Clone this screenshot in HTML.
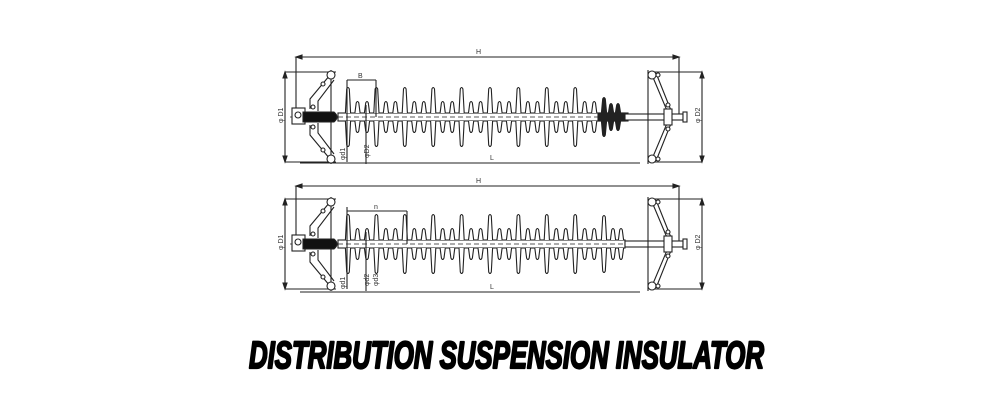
<!DOCTYPE html>
<html><head><meta charset="utf-8"><style>
html,body{margin:0;padding:0;background:#fff;width:1000px;height:400px;overflow:hidden}
svg{display:block}
</style></head><body>
<svg id="s" width="1000" height="400" viewBox="0 0 1000 400" xmlns="http://www.w3.org/2000/svg" font-family="Liberation Sans, sans-serif">
<g id="g" stroke="#222" stroke-width="1.1" fill="none"></g>
<text x="249" y="368" font-size="38" font-weight="bold" font-style="italic" textLength="515" lengthAdjust="spacingAndGlyphs" fill="#000" stroke="#000" stroke-width="2.2" stroke-linejoin="round">DISTRIBUTION SUSPENSION INSULATOR</text>
</svg>
<script>
var g=document.getElementById('g'),o='';
function L(a,b,c,d,e){o+='<line x1="'+a+'" y1="'+b+'" x2="'+c+'" y2="'+d+'"'+(e||'')+'/>';}
function T(x,y,t,r){o+='<text x="'+x+'" y="'+y+'" font-size="7" fill="#333" stroke="none"'+(r?' transform="rotate(-90 '+x+' '+y+')"':'')+'>'+t+'</text>';}
function C(x,y,r,f){o+='<circle cx="'+x+'" cy="'+y+'" r="'+r+'" fill="'+(f||'#fff')+'"/>';}
function shed(x,cy,h,dark){
 var w=2.6;
 o+='<path d="M'+(x-w)+' '+(cy-4)+' L'+(x-1.3)+' '+(cy-h+2)+' Q'+x+' '+(cy-h-1)+' '+(x+1.3)+' '+(cy-h+2)+' L'+(x+w)+' '+(cy-4)+' M'+(x-w)+' '+(cy+4)+' L'+(x-1.3)+' '+(cy+h-2)+' Q'+x+' '+(cy+h+1)+' '+(x+1.3)+' '+(cy+h-2)+' L'+(x+w)+' '+(cy+4)+'" fill="'+(dark?'#222':'#fff')+'"/>';
}
function draw(cy,yH,yL,s0,bottom){
 var top=cy-45,bot=cy+45;
 L(296,yH,679,yH);L(296,yH,296,cy);L(679,yH,679,cy);
 o+='<path d="M296 '+yH+' l6 -2 v4z M679 '+yH+' l-6 -2 v4z" fill="#222"/>';
 T(476,yH-3,'H');
 L(285,top,285,bot);L(285,top,336,top);L(285,bot,336,bot);
 o+='<path d="M285 '+top+' l-2 6 h4z M285 '+bot+' l-2 -6 h4z" fill="#222"/>';
 T(283,cy+6,'\u03c6 D1',1);
 L(702,top,702,bot);L(650,top,702,top);L(650,bot,702,bot);
 o+='<path d="M702 '+top+' l-2 6 h4z M702 '+bot+' l-2 -6 h4z" fill="#222"/>';
 T(700,cy+6,'\u03c6 D2',1);
 L(300,yL,640,yL);T(490,yL-3,'L');
 o+='<rect x="338" y="'+(cy-4)+'" width="'+(625-338)+'" height="8" fill="#fff"/>';
 for(var k=0;k<10;k++){var x=s0+28.4*k;if(x>600)break;shed(x,cy,30);if(x+10<600)shed(x+9.5,cy,16);if(x+19<600)shed(x+19,cy,16);}
 if(!bottom){shed(604,cy,20,1);shed(611,cy,14,1);shed(618,cy,14,1);o+='<rect x="598" y="'+(cy-4)+'" width="30" height="8" fill="#222"/>';}
 else{shed(604,cy,29);shed(613,cy,16);shed(621,cy,16);}
 L(290,cy,690,cy,' stroke-dasharray="5 3" stroke-width="0.7"');
 L(331,top-2,331,bot+2);
 o+='<path d="M330 '+(top+3)+' L310 '+(cy-18)+' L310 '+(cy-8)+' M334 '+(top+8)+' L318 '+(cy-16)+' L318 '+(cy-6)+' M330 '+(bot-3)+' L310 '+(cy+18)+' L310 '+(cy+8)+' M334 '+(bot-8)+' L318 '+(cy+16)+' L318 '+(cy+6)+'" fill="none"/>';
 C(331,top+3,4);C(331,bot-3,4);C(323,top+12,2);C(323,bot-12,2);C(313,cy-10,2);C(313,cy+10,2);
 o+='<rect x="292" y="'+(cy-9)+'" width="13" height="16" fill="#fff"/>';
 o+='<path d="M303 '+(cy-5)+' H334 Q340 '+cy+' 334 '+(cy+5)+' H303z" fill="#111"/>';
 C(298,cy-2,3);
 L(347,top+8,347,bot);L(366,cy-12,366,bot+2);
 if(!bottom){L(347,top+8,376,top+8);L(376,top+8,376,cy);T(358,top+6,'B');T(345,bot-2,'\u03c6d1',1);T(369,bot-4,'\u03c6D2',1);}
 else{L(347,top+12,407,top+12);L(407,top+12,407,cy);T(374,top+10,'n');T(345,bot,'\u03c6d1',1);T(369,bot-3,'\u03c6d2',1);T(378,bot-3,'\u03c6d3',1);}
 o+='<rect x="625" y="'+(cy-3)+'" width="58" height="6" fill="#fff"/>';
 o+='<rect x="683" y="'+(cy-5)+'" width="4" height="10" fill="#fff"/>';
 L(648,top-2,648,bot+2);
 o+='<path d="M652 '+(top+3)+' L668 '+(cy-4)+' M656 '+(top+1)+' L672 '+(cy-4)+' M652 '+(bot-3)+' L668 '+(cy+4)+' M656 '+(bot-1)+' L672 '+(cy+4)+'"/>';
 o+='<rect x="664" y="'+(cy-8)+'" width="8" height="16" fill="#fff"/>';
 C(652,top+3,4);C(652,bot-3,4);C(658,top+3,2);C(658,bot-3,2);C(668,cy-12,2);C(668,cy+12,2);
}
draw(117,57,163,348,0);
draw(244,186,292,348,1);
g.innerHTML=o;
</script>
</body></html>
